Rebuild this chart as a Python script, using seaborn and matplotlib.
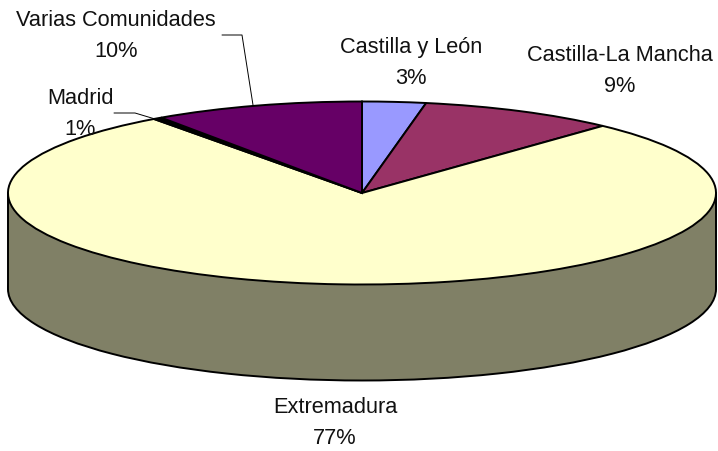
import matplotlib
matplotlib.use("Agg")
import matplotlib.pyplot as plt
import seaborn as sns
from matplotlib.patches import Rectangle

regions = ["Castilla y León", "Castilla-La Mancha", "Extremadura", "Madrid", "Varias Comunidades"]
shares = [2.9, 9.0, 78.1, 0.4, 9.6]
share_labels = ["3%", "9%", "77%", "1%", "10%"]
slice_colors = ["#9999FF", "#993366", "#FFFFCC", "#000000", "#660066"]
wall_color = "#808066"

sns.set_theme(style="white")
plt.rcParams["font.family"] = ["Liberation Sans", "DejaVu Sans"]

W, H = 718, 451
CX, CY, RX, RY, DEPTH = 362, 193, 354, 91.5, 96

fig = plt.figure(figsize=(W / 100, H / 100), dpi=100, facecolor="white")
ax = fig.add_axes([0, 0, 1, 1])

def px(x, y):
    return (x - CX) / RX, (CY - y) / RY

d = DEPTH / RY
lw = 1.4

# cylinder side
ax.pie([1], colors=[wall_color], center=(0, -d), radius=1,
       wedgeprops=dict(edgecolor="black", linewidth=lw))
ax.add_patch(Rectangle((-1, -d), 2, d, facecolor=wall_color, edgecolor="none", zorder=1.5))
ax.plot([-1, -1], [-d, 0], color="black", lw=lw, zorder=1.6)
ax.plot([1, 1], [-d, 0], color="black", lw=lw, zorder=1.6)

# top face
wedges, _ = ax.pie(shares, colors=slice_colors, startangle=90, counterclock=False,
                   wedgeprops=dict(edgecolor="black", linewidth=lw))
for w in wedges:
    w.set_zorder(3)

ax.set_aspect("auto")
ax.set_xlim(px(0, 0)[0], px(W, 0)[0])
ax.set_ylim(px(0, H)[1], px(0, 0)[1])
ax.axis("off")

# labels
label_pos = [(411, 63), (620, 71), (335, 423), (80, 114), (116, 36)]
for name, pct, (x, y) in zip(regions, share_labels, label_pos):
    lx, ly = px(x, y)
    ax.text(lx, ly, f"{name}\n{pct}", ha="center", va="center", fontsize=15.7,
            color="#111111", linespacing=1.65, zorder=5)

# leader lines
for pts in ([(222, 35), (242, 35), (253, 105)], [(114, 113), (135, 113), (155, 119)]):
    xy = [px(*p) for p in pts]
    ax.plot([p[0] for p in xy], [p[1] for p in xy], color="black", lw=0.7, zorder=4)

fig.savefig("out.png", dpi=100, facecolor="white")
